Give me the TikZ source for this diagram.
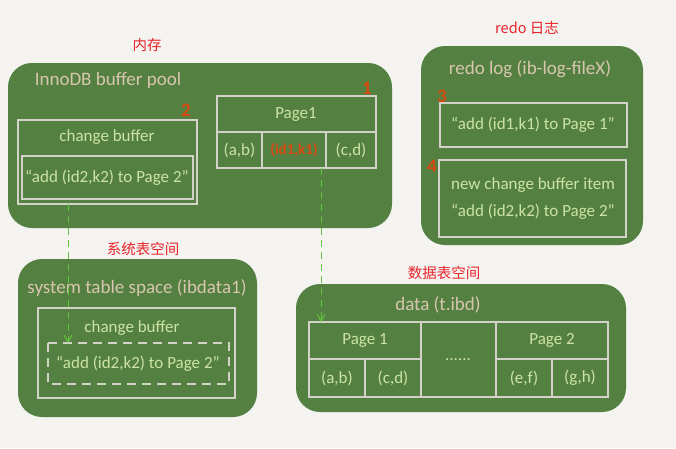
\documentclass[tikz,border=0pt]{standalone}
\usepackage{fontspec}
\usetikzlibrary{arrows.meta}
\setmainfont{Carlito}
\newfontfamily\cjk{Noto Sans CJK SC}

\definecolor{paper}{HTML}{F4F3EF}
\definecolor{poolgreen}{HTML}{548141}
\definecolor{gridgray}{HTML}{D2D2C8}
\definecolor{tantext}{HTML}{D8C6AE}
\definecolor{handgreen}{HTML}{CDE3A4}
\definecolor{numred}{HTML}{D9480F}
\definecolor{labred}{HTML}{E8232B}
\definecolor{flowgreen}{HTML}{62C43C}

\tikzset{
    pool/.style = {fill = poolgreen, rounded corners = 24pt},
    grid/.style = {draw = gridgray, line width = 1.3pt},
    title/.style = {text = tantext, font = \fontsize{19}{21}\selectfont},
    hand/.style = {text = handgreen, font = \fontsize{17}{19}\selectfont},
    numlabel/.style = {text = numred, font = \bfseries\fontsize{19}{21}\selectfont},
    zone/.style = {text = labred, font = \cjk\fontsize{14.5}{16}\selectfont},
    flow/.style = {draw = flowgreen, line width = 1pt, dash pattern = on 7pt off 5pt,
        -{Straight Barb[length = 7pt, width = 8pt]}}
}

\begin{document}
\begin{tikzpicture}[x = 1pt, y = -1pt]
        % фон
        \fill [paper] ( 0, 0 ) rectangle ( 676, 448 );
        \useasboundingbox ( 0, 0 ) rectangle ( 676, 448 );

        % подписи областей
        \node [zone] (memlab) at ( 147, 45 ) {内存};
        \node [zone] (redolab) at ( 527, 28 ) {redo 日志};
        \node [zone] (syslab) at ( 143, 249 ) {系统表空间};
        \node [zone] (datalab) at ( 444, 273 ) {数据表空间};

        % buffer pool
        \fill [pool] ( 8, 63 ) rectangle ( 392, 228 );
        \node [title] (bptitle) at ( 108, 80 ) {InnoDB buffer pool};
        \node [numlabel] (n1) at ( 367, 88 ) {1};
        \node [numlabel] (n2) at ( 186, 110 ) {2};

        % change buffer в памяти
        \draw [grid] ( 18, 120 ) rectangle ( 197, 204 );
        \node [hand] (cbtitle) at ( 107, 137 ) {change buffer};
        \draw [grid] ( 22, 156 ) rectangle ( 193, 199 );
        \node [hand] (cbitem) at ( 107, 178 ) {``add (id2,k2) to Page 2''};

        % Page1 в памяти
        \draw [grid] ( 217, 96 ) rectangle ( 376, 132 );
        \draw [grid] ( 217, 132 ) rectangle ( 262, 168 );
        \draw [grid] ( 262, 132 ) rectangle ( 326, 168 );
        \draw [grid] ( 326, 132 ) rectangle ( 376, 168 );
        \node [hand] (mp1) at ( 296, 114 ) {Page1};
        \node [hand] (mab) at ( 239.5, 150 ) {(a,b)};
        \node [hand, text = numred, font = \bfseries\fontsize{15}{17}\selectfont] (mk1) at ( 294, 150 ) {(id1,k1)};
        \node [hand] (mcd) at ( 351, 150 ) {(c,d)};

        % redo log
        \fill [pool] ( 421, 46 ) rectangle ( 643, 245 );
        \node [title] (rltitle) at ( 530, 69 ) {redo log (ib-log-fileX)};
        \node [numlabel] (n3) at ( 442, 96 ) {3};
        \node [numlabel] (n4) at ( 432, 166 ) {4};
        \draw [grid] ( 440, 103 ) rectangle ( 627, 147 );
        \node [hand] (rl1) at ( 533, 125 ) {``add (id1,k1) to Page 1''};
        \draw [grid] ( 439, 160 ) rectangle ( 626, 237 );
        \node [hand] (rl2a) at ( 533, 185 ) {new change buffer item};
        \node [hand] (rl2b) at ( 533, 212 ) {``add (id2,k2) to Page 2''};

        % system table space
        \fill [pool] ( 18, 259 ) rectangle ( 257, 417 );
        \node [title] (systitle) at ( 137, 288 ) {system table space (ibdata1)};
        \draw [grid] ( 38, 308 ) rectangle ( 235, 398 );
        \node [hand] (scb) at ( 132, 328 ) {change buffer};
        \draw [grid, dash pattern = on 9pt off 6pt] ( 48, 343 ) rectangle ( 229, 384 );
        \node [hand] (sitem) at ( 138, 364 ) {``add (id2,k2) to Page 2''};

        % data (t.ibd)
        \fill [pool] ( 296, 284 ) rectangle ( 626, 412 );
        \node [title] (dtitle) at ( 438, 305 ) {data (t.ibd)};
        \draw [grid] ( 309, 322 ) rectangle ( 421, 359 );
        \draw [grid] ( 309, 359 ) rectangle ( 365, 397 );
        \draw [grid] ( 365, 359 ) rectangle ( 421, 397 );
        \draw [grid] ( 421, 322 ) rectangle ( 496, 397 );
        \draw [grid] ( 496, 322 ) rectangle ( 608, 359 );
        \draw [grid] ( 496, 359 ) rectangle ( 552, 397 );
        \draw [grid] ( 552, 359 ) rectangle ( 608, 397 );
        \node [hand] (dp1) at ( 365, 340 ) {Page 1};
        \node [hand] (dab) at ( 337, 378 ) {(a,b)};
        \node [hand] (dcd) at ( 393, 378 ) {(c,d)};
        \node [hand] (ddots) at ( 458, 360 ) {......};
        \node [hand] (dp2) at ( 552, 340 ) {Page 2};
        \node [hand] (def) at ( 524, 378 ) {(e,f)};
        \node [hand] (dgh) at ( 580, 378 ) {(g,h)};

        % сброс на диск
        \coordinate (cbout) at ( 68, 204 );
        \coordinate (cbin) at ( 68, 343 );
        \coordinate (pgout) at ( 321, 168 );
        \coordinate (pgin) at ( 321, 322 );
        \draw [flow] (cbout) -- (cbin);
        \draw [flow] (pgout) -- (pgin);
    \end{tikzpicture}
\end{document}
